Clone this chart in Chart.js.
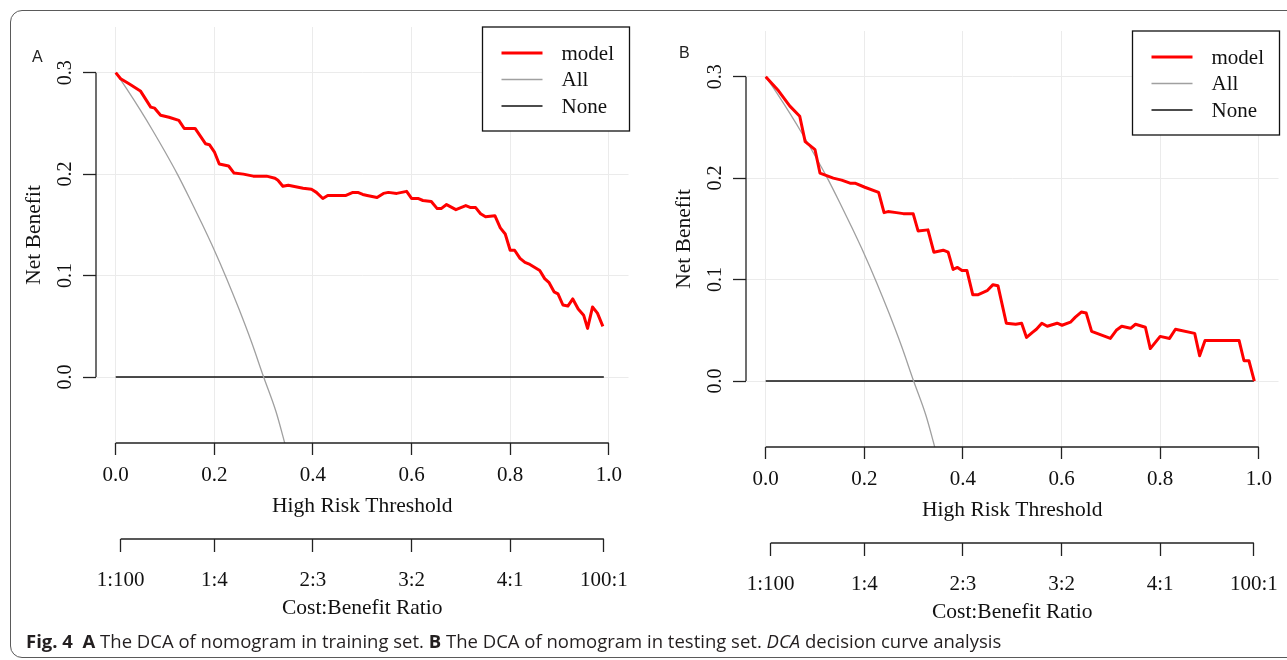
<!DOCTYPE html>
<html>
<head>
<meta charset="utf-8">
<script src="https://cdn.jsdelivr.net/npm/chart.js@4.4.0/dist/chart.umd.min.js"></script>
<style>
  body { margin: 0; background: #fff; width: 1287px; height: 660px; overflow: hidden; position: relative; }
  #frame { position: absolute; left: 10px; top: 10px; width: 1300px; height: 648px; border: 1.5px solid #5a5a5a; border-radius: 12px; box-sizing: border-box; }
  .panel { position: absolute; }
  .tag { position: absolute; font: 16px "Liberation Sans", Arial, sans-serif; color: #222; line-height: 16px; }
  #caption { position: absolute; left: 26px; top: 630px; font: 18.5px "Open Sans", sans-serif; color: #231f20; line-height: 22px; white-space: nowrap; }
  #caption b { font-weight: 700; }
</style>
</head>
<body>
<div id="frame"></div>
<div class="panel" style="left:0px;top:0px"><canvas id="chartA" width="637" height="625"></canvas></div>
<div class="panel" style="left:650px;top:4px"><canvas id="chartB" width="637" height="625"></canvas></div>
<div class="tag" style="left:32px;top:49px">A</div>
<div class="tag" style="left:679px;top:45px">B</div>
<div id="caption"><b>Fig. 4</b>&nbsp; <b>A</b> The DCA of nomogram in training set. <b>B</b> The DCA of nomogram in testing set. <i>DCA</i> decision curve analysis</div>
<script>
// tick values
const thresholdTicks = [0, 0.2, 0.4, 0.6, 0.8, 1.0];
const netBenefitTicks = [0, 0.1, 0.2, 0.3];
const costBenefitThresholds = [0.01, 0.2, 0.4, 0.6, 0.8, 0.99];
const costBenefitLabels = ['1:100', '1:4', '2:3', '3:2', '4:1', '100:1'];

// panel A (training set)
const modelAThreshold = [0.000, 0.010, 0.027, 0.050, 0.071, 0.079, 0.091, 0.108, 0.128, 0.139, 0.161, 0.182, 0.190, 0.200,
  0.210, 0.229, 0.240, 0.259, 0.279, 0.306, 0.323, 0.329, 0.339, 0.350, 0.370, 0.380, 0.397, 0.407, 0.420, 0.430, 0.454,
  0.467, 0.481, 0.491, 0.501, 0.510, 0.530, 0.543, 0.553, 0.570, 0.590, 0.600, 0.613, 0.623, 0.640, 0.652, 0.660, 0.671,
  0.690, 0.710, 0.720, 0.730, 0.740, 0.750, 0.769, 0.780, 0.790, 0.800, 0.809, 0.820, 0.830, 0.840, 0.860, 0.870, 0.879,
  0.889, 0.897, 0.907, 0.917, 0.927, 0.938, 0.949, 0.957, 0.967, 0.977, 0.988];
const modelANetBenefit = [0.300, 0.294, 0.289, 0.282, 0.266, 0.265, 0.258, 0.256, 0.253, 0.245, 0.245, 0.230, 0.229, 0.222,
  0.210, 0.208, 0.201, 0.200, 0.198, 0.198, 0.196, 0.194, 0.188, 0.189, 0.187, 0.186, 0.185, 0.182, 0.176, 0.179, 0.179,
  0.179, 0.182, 0.182, 0.180, 0.179, 0.177, 0.181, 0.182, 0.181, 0.183, 0.176, 0.176, 0.174, 0.173, 0.166, 0.166, 0.170,
  0.165, 0.169, 0.167, 0.167, 0.161, 0.158, 0.159, 0.147, 0.141, 0.125, 0.125, 0.117, 0.113, 0.111, 0.105, 0.097, 0.093,
  0.084, 0.082, 0.071, 0.070, 0.077, 0.067, 0.061, 0.048, 0.069, 0.063, 0.050];
const allAThreshold = [0, 0.025, 0.05, 0.075, 0.1, 0.125, 0.15, 0.175, 0.2, 0.225, 0.25, 0.275, 0.3, 0.325, 0.345];
const allANetBenefit = [0.300, 0.282, 0.263, 0.243, 0.222, 0.200, 0.176, 0.151, 0.125, 0.097, 0.067, 0.035, 0.000, -0.034, -0.069];
const noneAThreshold = [0, 0.99];
const noneANetBenefit = [0, 0];

// panel B (testing set)
const modelBThreshold = [0.000, 0.026, 0.049, 0.069, 0.080, 0.100, 0.110, 0.137, 0.154, 0.171, 0.181, 0.201, 0.229, 0.240,
  0.248, 0.265, 0.279, 0.299, 0.309, 0.329, 0.341, 0.360, 0.370, 0.380, 0.389, 0.398, 0.408, 0.420, 0.430, 0.449, 0.461,
  0.471, 0.488, 0.507, 0.519, 0.529, 0.541, 0.549, 0.560, 0.571, 0.591, 0.601, 0.618, 0.628, 0.640, 0.650, 0.661, 0.699,
  0.711, 0.722, 0.740, 0.750, 0.770, 0.780, 0.800, 0.819, 0.831, 0.870, 0.880, 0.891, 0.960, 0.970, 0.980, 0.991];
const modelBNetBenefit = [0.300, 0.286, 0.271, 0.261, 0.236, 0.228, 0.205, 0.200, 0.198, 0.195, 0.195, 0.191, 0.186, 0.166,
  0.167, 0.166, 0.165, 0.165, 0.148, 0.149, 0.127, 0.129, 0.127, 0.110, 0.112, 0.109, 0.109, 0.085, 0.085, 0.089, 0.095,
  0.094, 0.057, 0.056, 0.057, 0.043, 0.048, 0.051, 0.057, 0.054, 0.057, 0.055, 0.058, 0.063, 0.068, 0.067, 0.049, 0.042,
  0.050, 0.054, 0.052, 0.056, 0.053, 0.032, 0.044, 0.042, 0.051, 0.047, 0.025, 0.040, 0.040, 0.020, 0.020, 0.000];
const allBThreshold = [0, 0.025, 0.05, 0.075, 0.1, 0.125, 0.15, 0.175, 0.2, 0.225, 0.25, 0.275, 0.3, 0.325, 0.345];
const allBNetBenefit = [0.300, 0.282, 0.263, 0.243, 0.222, 0.200, 0.176, 0.151, 0.125, 0.097, 0.067, 0.035, 0.000, -0.034, -0.069];
const noneBThreshold = [0, 0.99];
const noneBNetBenefit = [0, 0];

const serif = '"Liberation Serif", "Times New Roman", serif';

function pts(xs, ys) {
  return xs.map((x, i) => ({ x: x, y: ys[i] }));
}

// R-style axes (lines only over data range), rotated y labels and boxed legend
const rStyle = {
  id: 'rStyle',
  afterDraw(chart) {
    const ctx = chart.ctx;
    const area = chart.chartArea;
    const x = chart.scales.x, y = chart.scales.y, x2 = chart.scales.x2;
    ctx.save();
    ctx.strokeStyle = '#222';
    ctx.lineWidth = 1.3;
    ctx.beginPath();
    ctx.moveTo(x.getPixelForValue(thresholdTicks[0]), area.bottom);
    ctx.lineTo(x.getPixelForValue(thresholdTicks[thresholdTicks.length - 1]), area.bottom);
    ctx.moveTo(area.left, y.getPixelForValue(netBenefitTicks[0]));
    ctx.lineTo(area.left, y.getPixelForValue(netBenefitTicks[netBenefitTicks.length - 1]));
    ctx.moveTo(x2.getPixelForValue(costBenefitThresholds[0]), x2.top);
    ctx.lineTo(x2.getPixelForValue(costBenefitThresholds[costBenefitThresholds.length - 1]), x2.top);
    ctx.stroke();

    // y tick labels, rotated like R
    ctx.fillStyle = '#111';
    ctx.font = '20px ' + serif;
    ctx.textAlign = 'center';
    ctx.textBaseline = 'middle';
    netBenefitTicks.forEach(v => {
      ctx.save();
      ctx.translate(area.left - 30, y.getPixelForValue(v));
      ctx.rotate(-Math.PI / 2);
      ctx.fillText(v.toFixed(1), 0, 0);
      ctx.restore();
    });

    // legend box
    const bw = 147, bh = 104;
    const bx = area.right - bw + 1, by = area.top;
    ctx.fillStyle = '#fff';
    ctx.fillRect(bx, by, bw, bh);
    ctx.strokeStyle = '#111';
    ctx.lineWidth = 1.3;
    ctx.strokeRect(bx, by, bw, bh);
    ctx.font = '21px ' + serif;
    ctx.textAlign = 'left';
    chart.data.datasets.forEach((ds, i) => {
      const ry = by + 26 + i * 26.5;
      ctx.strokeStyle = ds.borderColor;
      ctx.lineWidth = ds.borderWidth;
      ctx.beginPath();
      ctx.moveTo(bx + 19, ry);
      ctx.lineTo(bx + 60, ry);
      ctx.stroke();
      ctx.fillStyle = '#111';
      ctx.fillText(ds.label, bx + 79, ry + 1);
    });
    ctx.restore();
  }
};

function noPad(s) {
  s.paddingLeft = 0;
  s.paddingRight = 0;
}

function makePanel(id, model, all, none) {
  return new Chart(document.getElementById(id), {
    type: 'line',
    data: {
      datasets: [
        { label: 'model', data: model, borderColor: '#ff0000', borderWidth: 3, pointRadius: 0, tension: 0, borderJoinStyle: 'round' },
        { label: 'All', data: all, borderColor: '#a0a0a0', borderWidth: 1.3, pointRadius: 0, cubicInterpolationMode: 'monotone' },
        { label: 'None', data: none, borderColor: '#111', borderWidth: 1.4, pointRadius: 0, tension: 0 }
      ]
    },
    options: {
      responsive: false,
      animation: false,
      events: [],
      layout: { padding: { top: 27, right: 8.5, left: 0, bottom: 0 } },
      plugins: { legend: { display: false }, tooltip: { enabled: false } },
      scales: {
        x: {
          type: 'linear', min: -0.04, max: 1.04, weight: 0,
          afterBuildTicks: s => { s.ticks = thresholdTicks.map(v => ({ value: v })); },
          afterFit: s => { s.height = 96; noPad(s); },
          border: { display: false },
          grid: { color: '#ebebeb', lineWidth: 1, tickColor: '#222', tickLength: 12, tickWidth: 1.3 },
          ticks: { color: '#111', font: { family: serif, size: 21, lineHeight: 1.2 }, padding: 8, maxRotation: 0, callback: v => v.toFixed(1) },
          title: { display: true, text: 'High Risk Threshold', color: '#111', font: { family: serif, size: 21.5, lineHeight: 1.2 }, padding: { top: 0, bottom: 19.4 } }
        },
        x2: {
          type: 'linear', axis: 'x', position: 'bottom', min: -0.04, max: 1.04, weight: 1,
          afterBuildTicks: s => { s.ticks = costBenefitThresholds.map(v => ({ value: v })); },
          afterFit: s => { s.height = 86; noPad(s); },
          border: { display: false },
          grid: { drawOnChartArea: false, tickColor: '#222', tickLength: 13, tickWidth: 1.3 },
          ticks: { color: '#111', font: { family: serif, size: 21, lineHeight: 1.2 }, padding: 15.4, maxRotation: 0, autoSkip: false,
                   callback: (v, i) => costBenefitLabels[i] },
          title: { display: true, text: 'Cost:Benefit Ratio', color: '#111', font: { family: serif, size: 21.5, lineHeight: 1.2 }, padding: { top: 0, bottom: 4.1 } }
        },
        y: {
          type: 'linear', min: -0.065, max: 0.345,
          afterBuildTicks: s => { s.ticks = netBenefitTicks.map(v => ({ value: v })); },
          afterFit: s => { s.width = 96; },
          border: { display: false },
          grid: { color: '#ebebeb', lineWidth: 1, tickColor: '#222', tickLength: 13, tickWidth: 1.3 },
          ticks: { display: false },
          title: { display: true, text: 'Net Benefit', color: '#111', font: { family: serif, size: 21.5, lineHeight: 1.2 }, padding: { top: 21, bottom: 0 } }
        }
      }
    },
    plugins: [rStyle]
  });
}

makePanel('chartA', pts(modelAThreshold, modelANetBenefit), pts(allAThreshold, allANetBenefit), pts(noneAThreshold, noneANetBenefit));
makePanel('chartB', pts(modelBThreshold, modelBNetBenefit), pts(allBThreshold, allBNetBenefit), pts(noneBThreshold, noneBNetBenefit));
</script>
</body>
</html>
